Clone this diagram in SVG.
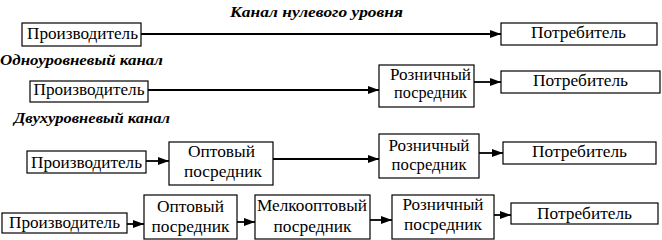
<svg xmlns="http://www.w3.org/2000/svg" width="662" height="240" viewBox="0 0 662 240">
<defs>
<marker id="a" markerWidth="11" markerHeight="8" refX="11" refY="4" orient="auto" markerUnits="userSpaceOnUse">
<path d="M0,0 L11,4 L0,8 Z" fill="#000"/>
</marker>
</defs>
<rect width="662" height="240" fill="#fff"/>
<text font-family="Liberation Serif, DejaVu Serif, serif" font-size="14" font-weight="bold" font-style="italic" x="230" y="17" textLength="173" lengthAdjust="spacingAndGlyphs">Канал нулевого уровня</text>
<text font-family="Liberation Serif, DejaVu Serif, serif" font-size="14" font-weight="bold" font-style="italic" x="0" y="65" textLength="163" lengthAdjust="spacingAndGlyphs">Одноуровневый канал</text>
<text font-family="Liberation Serif, DejaVu Serif, serif" font-size="14" font-weight="bold" font-style="italic" x="14" y="123" textLength="156" lengthAdjust="spacingAndGlyphs">Двухуровневый канал</text>
<g id="connectors" stroke="#000" stroke-width="1.8" fill="none" marker-end="url(#a)">
<line x1="141" y1="34" x2="501" y2="34"/>
<line x1="148" y1="90" x2="379" y2="90"/>
<line x1="474" y1="82" x2="501" y2="82"/>
<line x1="146" y1="161" x2="169" y2="161"/>
<line x1="273" y1="159" x2="379" y2="159"/>
<line x1="479" y1="153" x2="503" y2="153"/>
<line x1="127" y1="224" x2="144" y2="224"/>
<line x1="237" y1="222" x2="255" y2="222"/>
<line x1="370" y1="220" x2="392" y2="220"/>
<line x1="494" y1="215" x2="511" y2="215"/>
</g>
<g text-anchor="middle" font-size="17">
<g id="r1-producer"><rect fill="#fff" stroke="#000" stroke-width="1.2" x="22" y="23" width="119" height="23"/><text font-family="Liberation Serif, DejaVu Serif, serif" x="82.5" y="39" textLength="111" lengthAdjust="spacingAndGlyphs">Производитель</text></g>
<g id="r1-consumer"><rect fill="#fff" stroke="#000" stroke-width="1.2" x="501" y="23" width="156" height="22"/><text font-family="Liberation Serif, DejaVu Serif, serif" x="578.5" y="38" textLength="95" lengthAdjust="spacingAndGlyphs">Потребитель</text></g>
<g id="r2-producer"><rect fill="#fff" stroke="#000" stroke-width="1.2" x="30" y="81" width="118" height="21"/><text font-family="Liberation Serif, DejaVu Serif, serif" x="89" y="95" textLength="111" lengthAdjust="spacingAndGlyphs">Производитель</text></g>
<g id="r2-retail"><rect fill="#fff" stroke="#000" stroke-width="1.2" x="379" y="65" width="95" height="42"/><text font-family="Liberation Serif, DejaVu Serif, serif" x="430.5" y="80" textLength="81" lengthAdjust="spacingAndGlyphs">Розничный</text><text font-family="Liberation Serif, DejaVu Serif, serif" x="430.5" y="98" textLength="73" lengthAdjust="spacingAndGlyphs">посредник</text></g>
<g id="r2-consumer"><rect fill="#fff" stroke="#000" stroke-width="1.2" x="501" y="71" width="159" height="22"/><text font-family="Liberation Serif, DejaVu Serif, serif" x="580.5" y="86" textLength="95" lengthAdjust="spacingAndGlyphs">Потребитель</text></g>
<g id="r3-producer"><rect fill="#fff" stroke="#000" stroke-width="1.2" x="27" y="151" width="119" height="22"/><text font-family="Liberation Serif, DejaVu Serif, serif" x="86.5" y="168" textLength="111" lengthAdjust="spacingAndGlyphs">Производитель</text></g>
<g id="r3-wholesale"><rect fill="#fff" stroke="#000" stroke-width="1.2" x="169" y="142" width="104" height="43"/><text font-family="Liberation Serif, DejaVu Serif, serif" x="221.5" y="157" textLength="67" lengthAdjust="spacingAndGlyphs">Оптовый</text><text font-family="Liberation Serif, DejaVu Serif, serif" x="223" y="177" textLength="78" lengthAdjust="spacingAndGlyphs">посредник</text></g>
<g id="r3-retail"><rect fill="#fff" stroke="#000" stroke-width="1.2" x="379" y="134" width="100" height="44"/><text font-family="Liberation Serif, DejaVu Serif, serif" x="429" y="151" textLength="81" lengthAdjust="spacingAndGlyphs">Розничный</text><text font-family="Liberation Serif, DejaVu Serif, serif" x="429" y="170" textLength="75" lengthAdjust="spacingAndGlyphs">посредник</text></g>
<g id="r3-consumer"><rect fill="#fff" stroke="#000" stroke-width="1.2" x="503" y="142" width="153" height="22"/><text font-family="Liberation Serif, DejaVu Serif, serif" x="579.5" y="157" textLength="95" lengthAdjust="spacingAndGlyphs">Потребитель</text></g>
<g id="r4-producer"><rect fill="#fff" stroke="#000" stroke-width="1.2" x="2" y="213" width="125" height="20"/><text font-family="Liberation Serif, DejaVu Serif, serif" x="64.5" y="228" textLength="111" lengthAdjust="spacingAndGlyphs">Производитель</text></g>
<g id="r4-wholesale"><rect fill="#fff" stroke="#000" stroke-width="1.2" x="144" y="195" width="93" height="44"/><text font-family="Liberation Serif, DejaVu Serif, serif" x="190.5" y="212" textLength="67" lengthAdjust="spacingAndGlyphs">Оптовый</text><text font-family="Liberation Serif, DejaVu Serif, serif" x="190.5" y="232" textLength="78" lengthAdjust="spacingAndGlyphs">посредник</text></g>
<g id="r4-smallwholesale"><rect fill="#fff" stroke="#000" stroke-width="1.2" x="255" y="195" width="115" height="44"/><text font-family="Liberation Serif, DejaVu Serif, serif" x="312" y="211" textLength="110" lengthAdjust="spacingAndGlyphs">Мелкооптовый</text><text font-family="Liberation Serif, DejaVu Serif, serif" x="312.5" y="232" textLength="78" lengthAdjust="spacingAndGlyphs">посредник</text></g>
<g id="r4-retail"><rect fill="#fff" stroke="#000" stroke-width="1.2" x="392" y="195" width="102" height="44"/><text font-family="Liberation Serif, DejaVu Serif, serif" x="443" y="210" textLength="81" lengthAdjust="spacingAndGlyphs">Розничный</text><text font-family="Liberation Serif, DejaVu Serif, serif" x="443" y="230" textLength="78" lengthAdjust="spacingAndGlyphs">посредник</text></g>
<g id="r4-consumer"><rect fill="#fff" stroke="#000" stroke-width="1.2" x="511" y="203" width="147" height="21"/><text font-family="Liberation Serif, DejaVu Serif, serif" x="584.5" y="219" textLength="95" lengthAdjust="spacingAndGlyphs">Потребитель</text></g>
</g>
</svg>
